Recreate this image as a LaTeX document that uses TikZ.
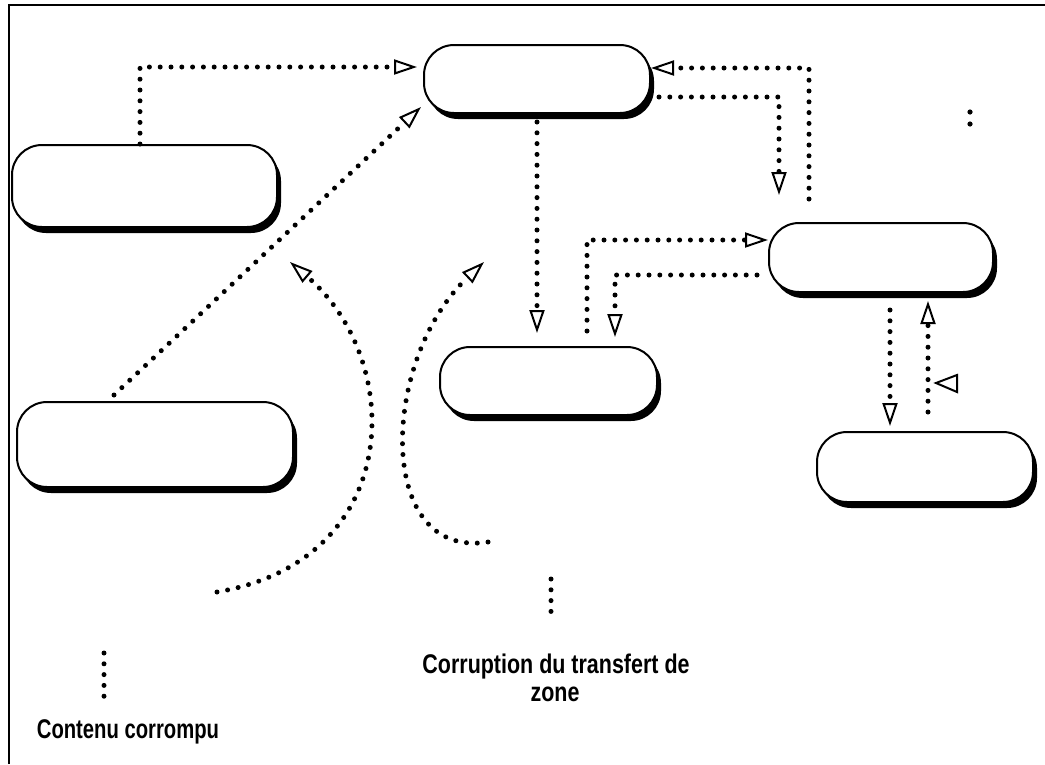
\documentclass[tikz,border=0pt]{standalone}
\usepackage{fontspec}
\usepackage{graphicx}
\setmainfont{Liberation Sans}
\usetikzlibrary{arrows.meta,calc,shadows}
\newcommand{\narrowtext}[2]{\scalebox{#1}[1]{#2}}
\begin{document}
\begin{tikzpicture}[x=1pt,y=-1pt,
  pill/.style={draw=black, line width=2pt, fill=white, rounded corners=30pt, inner sep=0pt,
     drop shadow={shadow xshift=4pt, shadow yshift=-6pt, fill=black, opacity=1}},
  dotline/.style={line width=5pt, line cap=round, dash pattern=on 0pt off 10.8pt},
  dotarr/.style={dotline, -{Triangle[open,length=23pt,width=15pt,line width=2pt]}},
  lbl/.style={font=\bfseries\fontsize{27}{28}\selectfont, inner sep=0pt, anchor=base}
]
\useasboundingbox (0,0) rectangle (1045,764);

% frame
\draw[line width=2pt] (9,764) -- (9,5) -- (1045,5);

% boxes
\node[pill, minimum width=226pt, minimum height=68pt] (A) at (537,79) {};
\node[pill, minimum width=265pt, minimum height=82pt] (B) at (144.5,186) {};
\node[pill, minimum width=276pt, minimum height=85pt] (C) at (155,444.5) {};
\node[pill, minimum width=217pt, minimum height=68pt] (D) at (548.5,381) {};
\node[pill, minimum width=224pt, minimum height=69pt] (E) at (881,257.5) {};
\node[pill, minimum width=216pt, minimum height=70pt] (F) at (925,467) {};

% connectors between boxes
\draw[dotarr] (B.north -| 140,0) |- ([xshift=-6pt]A.west |- 0,67);
\draw[dotarr] ($(C.north -| 114,0)+(0,-6)$) -- ($(A.south west)+(-2,-7)$);
\draw[dotarr] ($(E.north -| 809,0)+(0,-23)$) |- (A.east |- 0,68);
\draw[dotarr] ($(A.east)+(8,18)$) -| ($(E.north -| 779,0)+(0,-27)$);
\draw[dotarr] ($(A.south)+(0,8)$) -- ($(D.north -| A.south)+(0,-13)$);
\draw[dotarr] ($(D.north -| 587,0)+(0,-15)$) |- (E.west |- 0,240);
\draw[dotarr] ($(E.west |- 0,275)+(-11,0)$) -| ($(D.north -| 615,0)+(0,-9)$);
\draw[dotarr] ($(E.south -| 890,0)+(0,17)$) -- ($(F.north -| 890,0)+(0,-5)$);
\draw[dotarr] ($(F.north -| 928,0)+(0,-19)$) -- ($(E.south -| 928,0)+(0,8)$);

% lone arrow head beside the return path
\draw[line width=2pt, line join=miter] (936,383) -- (957,375) -- (957,392) -- cycle;

% curved attack paths
\coordinate (s1) at (217,592);
\coordinate (t1) at (290,262);
\coordinate (s2) at (488,542);
\coordinate (t2) at (484,262);
\draw[dotarr] (s1) .. controls (405,560) and (405,360) .. (t1);
\draw[dotarr] (s2) .. controls (375,560) and (380,360) .. (t2);

% stray mark at the top right
\fill (970,112) circle (2.6pt);
\fill (970,124) circle (2.6pt);

% labels
\node[lbl] (L1) at (128,738) {\narrowtext{0.75}{Contenu corrompu}};
\node[lbl] (L2) at (556,673) {\narrowtext{0.795}{Corruption du transfert de}};
\node[lbl] (L3) at (555,701) {\narrowtext{0.795}{zone}};
\coordinate (p1) at (104,653);
\coordinate (p2) at (551,579);
\draw[dotline] (p1) -- (p1 |- 0,702);
\draw[dotline] (p2) -- (p2 |- 0,622);
\end{tikzpicture}
\end{document}
